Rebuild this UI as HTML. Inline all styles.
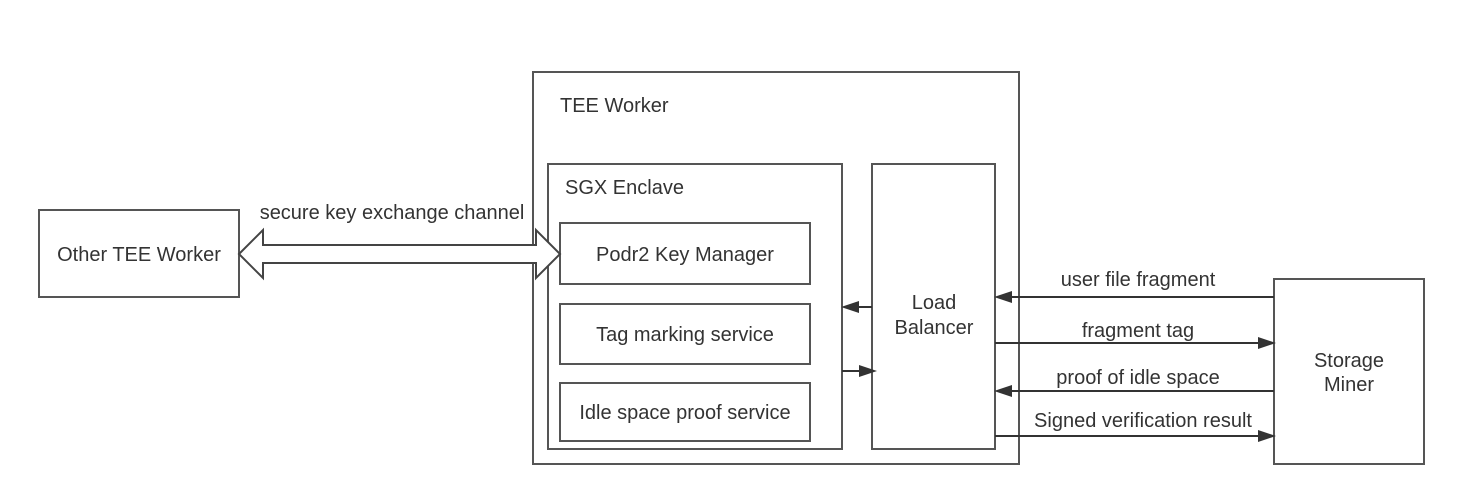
<!DOCTYPE html>
<html><head><meta charset="utf-8"><style>
html,body{margin:0;padding:0;background:#fff;}
svg{display:block;}
text{font-family:"Liberation Sans",sans-serif;font-size:20px;fill:#333;}
</style></head><body>
<svg width="1461" height="502" viewBox="0 0 1461 502" xmlns="http://www.w3.org/2000/svg">
<g fill="none" stroke="#555" stroke-width="2">
<rect x="533" y="72" width="486" height="392"/>
<rect x="39" y="210" width="200" height="87"/>
<rect x="548" y="164" width="294" height="285"/>
<rect x="560" y="223" width="250" height="61"/>
<rect x="560" y="304" width="250" height="60"/>
<rect x="560" y="383" width="250" height="58"/>
<rect x="872" y="164" width="123" height="285"/>
<rect x="1274" y="279" width="150" height="185"/>
</g>
<path d="M239,254 L263,230 L263,245 L536,245 L536,230 L560,254 L536,278 L536,263 L263,263 L263,278 Z" fill="#fff" stroke="#444" stroke-width="2"/>
<g stroke="#333" stroke-width="2">
<line x1="1274" y1="297" x2="1010" y2="297"/>
<line x1="995" y1="343" x2="1258" y2="343"/>
<line x1="1274" y1="391" x2="1010" y2="391"/>
<line x1="995" y1="436" x2="1258" y2="436"/>
<line x1="872" y1="307" x2="856" y2="307"/>
<line x1="842" y1="371" x2="861" y2="371"/>
</g>
<g fill="#333">
<polygon points="994,297 1012,291 1012,303"/>
<polygon points="1276,343 1258,337 1258,349"/>
<polygon points="994,391 1012,385 1012,397"/>
<polygon points="1276,436 1258,430 1258,442"/>
<polygon points="841,307 859,301 859,313"/>
<polygon points="877,371 859,365 859,377"/>
</g>
<text x="560" y="112">TEE Worker</text>
<text x="565" y="194">SGX Enclave</text>
<text x="139" y="261" text-anchor="middle">Other TEE Worker</text>
<text x="392" y="219" text-anchor="middle">secure key exchange channel</text>
<text x="685" y="261" text-anchor="middle">Podr2 Key Manager</text>
<text x="685" y="341" text-anchor="middle">Tag marking service</text>
<text x="685" y="419" text-anchor="middle">Idle space proof service</text>
<text x="934" y="309" text-anchor="middle">Load</text>
<text x="934" y="334" text-anchor="middle">Balancer</text>
<text x="1349" y="367" text-anchor="middle">Storage</text>
<text x="1349" y="391" text-anchor="middle">Miner</text>
<text x="1138" y="286" text-anchor="middle">user file fragment</text>
<text x="1138" y="337" text-anchor="middle">fragment tag</text>
<text x="1138" y="384" text-anchor="middle">proof of idle space</text>
<text x="1143" y="427" text-anchor="middle">Signed verification result</text>
</svg>
</body></html>
